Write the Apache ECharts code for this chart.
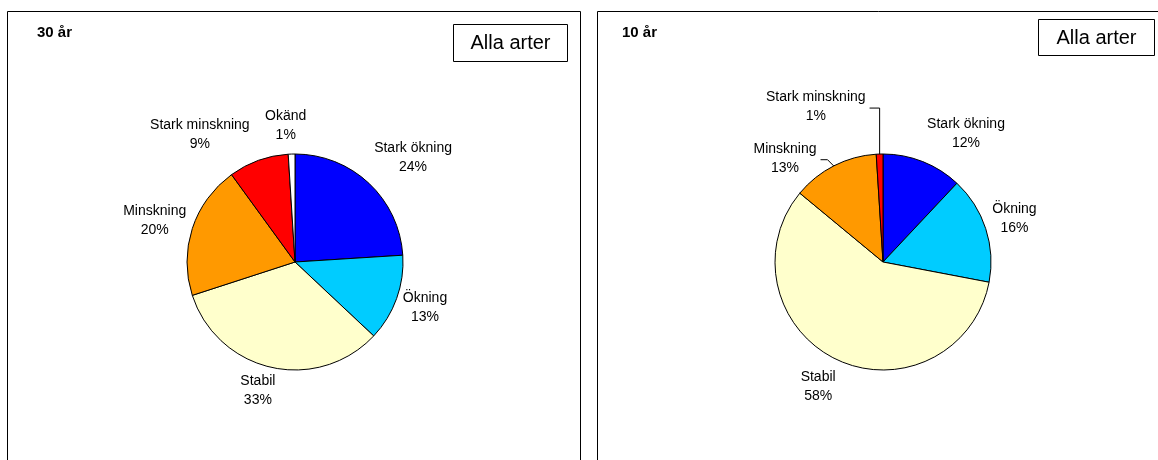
<!DOCTYPE html>
<html>
<head>
<meta charset="utf-8">
<script src="https://cdn.jsdelivr.net/npm/echarts@6/dist/echarts.min.js"></script>
<style>
html,body{margin:0;padding:0;background:#fff;}
#chart{width:1158px;height:460px;}
</style>
</head>
<body>
<div id="chart"></div>
<script>
// ---- data ----
const categories30 = ['Stark ökning', 'Ökning', 'Stabil', 'Minskning', 'Stark minskning', 'Okänd'];
const values30 = [24, 13, 33, 20, 9, 1];
const categories10 = ['Stark ökning', 'Ökning', 'Stabil', 'Minskning', 'Stark minskning'];
const values10 = [12, 16, 58, 13, 1];
const panelTitles = ['30 år', '10 år'];
const boxLabel = 'Alla arter';

// ---- style ----
const sliceColors = {
  'Stark ökning': '#0000FF',
  'Ökning': '#00CCFF',
  'Stabil': '#FFFFCC',
  'Minskning': '#FF9900',
  'Stark minskning': '#FF0000',
  'Okänd': '#FFFFFF'
};
const FONT = '"Liberation Sans", Arial, sans-serif';
const R = 108;
const GAP = 8;
// label nudges (Excel-style manual label placement), per panel, per category
const labelNudge = [
  { 'Stark ökning': [12, -6], 'Stabil': [-8, -3], 'Stark minskning': [-39, 0], 'Okänd': [-5, -1] },
  { 'Stark ökning': [26, -3], 'Ökning': [0, -2], 'Stabil': [-8, 2], 'Minskning': [-31, 17], 'Stark minskning': [-62, -20] }
];
const leaderItems = [[], ['Minskning', 'Stark minskning']];

function makeSeries(cats, vals, center, panel) {
  const total = vals.reduce((a, b) => a + b, 0);
  const mids = [];
  let acc = 0;
  vals.forEach(v => { mids.push((acc + v / 2) / total * 2 * Math.PI); acc += v; });
  return {
    type: 'pie',
    center: center,
    radius: R,
    startAngle: 90,
    clockwise: true,
    silent: true,
    animation: false,
    avoidLabelOverlap: false,
    itemStyle: { borderColor: '#000', borderWidth: 1 },
    label: {
      show: true,
      position: 'outside',
      formatter: p => p.name + '\n' + p.value + '%',
      fontFamily: FONT,
      fontSize: 14,
      lineHeight: 19,
      color: '#000',
      align: 'center'
    },
    labelLine: { show: false, length: 5, length2: 5, lineStyle: { color: '#000', width: 1 } },
    labelLayout: function (params) {
      const i = params.dataIndex;
      const name = cats[i];
      const a = mids[i];
      const dx = Math.sin(a), dy = -Math.cos(a);
      const w = params.labelRect.width, h = params.labelRect.height;
      const nud = labelNudge[panel][name] || [0, 0];
      const cx = center[0] + dx * (R + GAP) + dx * w / 2 + nud[0];
      const cy = center[1] + dy * (R + GAP) + dy * h / 2 + nud[1];
      const out = { x: cx, y: cy, align: 'center', verticalAlign: 'middle' };
      if (leaderItems[panel].indexOf(name) >= 0) {
        const ex = center[0] + dx * (R - 1), ey = center[1] + dy * (R - 1);
        const sx = cx + w / 2 + 4;
        const yy = cy + 1;
        const mx = (ex - sx < 12) ? ex : sx + 7;
        out.labelLinePoints = [[sx, yy], [mx, yy], [ex, ey]];
      }
      return out;
    },
    data: cats.map((c, i) => ({
      name: c,
      value: vals[i],
      itemStyle: { color: sliceColors[c] },
      labelLine: { show: leaderItems[panel].indexOf(c) >= 0 }
    }))
  };
}

const chart = echarts.init(document.getElementById('chart'), null, { renderer: 'canvas' });
chart.setOption({
  backgroundColor: '#fff',
  animation: false,
  graphic: [
    { type: 'rect', shape: { x: 7.5, y: 11.5, width: 573, height: 470 }, style: { fill: 'none', stroke: '#000', lineWidth: 1 }, silent: true },
    { type: 'rect', shape: { x: 597.5, y: 11.5, width: 570, height: 470 }, style: { fill: 'none', stroke: '#000', lineWidth: 1 }, silent: true },
    { type: 'text', left: 37, top: 25, style: { text: panelTitles[0], font: 'bold 15px ' + FONT, fill: '#000' }, silent: true },
    { type: 'text', left: 622, top: 25, style: { text: panelTitles[1], font: 'bold 15px ' + FONT, fill: '#000' }, silent: true },
    { type: 'rect', shape: { x: 453.5, y: 24.5, width: 114, height: 37 }, style: { fill: '#fff', stroke: '#000', lineWidth: 1 }, silent: true },
    { type: 'text', x: 510.5, y: 43, style: { text: boxLabel, font: '20px ' + FONT, fill: '#000', align: 'center', verticalAlign: 'middle' }, silent: true },
    { type: 'rect', shape: { x: 1038.5, y: 19.5, width: 116, height: 36 }, style: { fill: '#fff', stroke: '#000', lineWidth: 1 }, silent: true },
    { type: 'text', x: 1096.5, y: 38, style: { text: boxLabel, font: '20px ' + FONT, fill: '#000', align: 'center', verticalAlign: 'middle' }, silent: true }
  ],
  series: [
    makeSeries(categories30, values30, [295, 262], 0),
    makeSeries(categories10, values10, [883, 262], 1)
  ]
});
</script>
</body>
</html>
